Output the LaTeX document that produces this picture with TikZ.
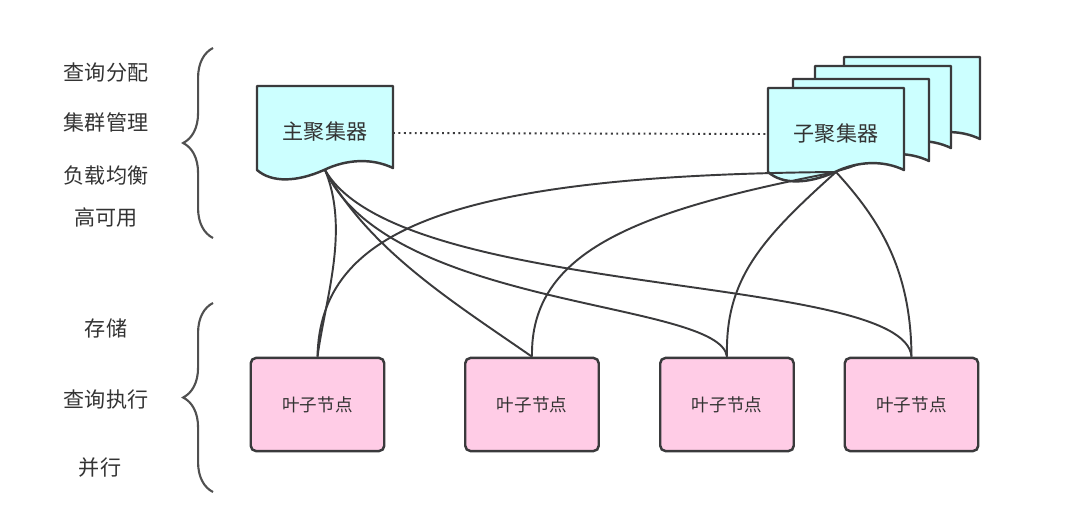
\documentclass[tikz,border=0pt]{standalone}
\usepackage{fontspec}
\newfontfamily\cjk{Noto Sans CJK SC}
\usetikzlibrary{decorations.pathreplacing}
\definecolor{diagink}{HTML}{333333}
\definecolor{diagline}{HTML}{3A3A3C}
\definecolor{aggfill}{HTML}{CCFFFF}
\definecolor{leaffill}{HTML}{FFCCE6}
\definecolor{bracegray}{HTML}{505050}
\tikzset{
  sidetext/.style={font=\cjk\fontsize{12}{14}\selectfont, text=diagink},
  aggtext/.style={font=\cjk\fontsize{12}{14}\selectfont, text=diagink},
  leafbox/.style={draw=diagline, fill=leaffill, rounded corners=3pt,
    line width=1.4pt, minimum width=76pt, minimum height=53pt,
    font=\cjk\fontsize{10}{12}\selectfont, text=diagink},
  docline/.style={draw=diagline, fill=aggfill, line width=1.4pt, line join=round},
  link/.style={draw=diagline, line width=1.1pt},
  peerlink/.style={draw=diagline, line width=1.1pt, dotted},
  sidebrace/.style={draw=bracegray, line width=1.2pt, decorate,
    decoration={brace, amplitude=17pt}},
  pics/docshape/.style={code={
    \draw[docline] (0,0) -- (136,0) -- (136,82)
      .. controls (115,72) and (90,73) .. (67,84)
      .. controls (40,96) and (15,97) .. (0,84) -- cycle;
    \node[aggtext] (-label) at (68,46) {#1};
    \coordinate (-tip) at (68,84);
    \coordinate (-east) at (136,47);
    \coordinate (-west) at (0,46);
  }}
}

\begin{document}
\begin{tikzpicture}[x=0.02cm,y=-0.02cm]
  \useasboundingbox (0,0) rectangle (1080,524);

  % side notes
  \node[sidetext] (assign) at (106,73) {查询分配};
  \node[sidetext] (cluster) at (106,122) {集群管理};
  \node[sidetext] (balance) at (106,175) {负载均衡};
  \node[sidetext] (avail) at (106,218) {高可用};
  \node[sidetext] (store) at (106,328) {存储};
  \node[sidetext] (exec) at (106,400) {查询执行};
  \node[sidetext] (para) at (100,468) {并行};
  \draw[sidebrace] (213,238) -- (213,48);
  \draw[sidebrace] (213,492) -- (213,303);

  % aggregators, the copies behind the front one stay blank
  \pic (mainagg) at (257,86) {docshape=主聚集器};
  \foreach \x/\y [count=\i] in {844/57, 815/66, 793/79} {
    \pic (back\i) at (\x,\y) {docshape={}};
  }
  \pic (subagg) at (768,88) {docshape=子聚集器};
  \draw[peerlink] (mainagg-east) -- (subagg-west);

  % leaves
  \node[leafbox] (leaf1) at (317.5,404.5) {叶子节点};
  \node[leafbox] (leaf2) at (532,404.5) {叶子节点};
  \node[leafbox] (leaf3) at (727,404.5) {叶子节点};
  \node[leafbox] (leaf4) at (911.5,404.5) {叶子节点};

  \draw[link] (mainagg-tip) .. controls (350,230) and (325,300) .. (leaf1.north);
  \draw[link] (mainagg-tip) .. controls (370,250) and (450,300) .. (leaf2.north);
  \draw[link] (mainagg-tip) .. controls (390,310) and (720,300) .. (leaf3.north);
  \draw[link] (mainagg-tip) .. controls (400,300) and (905,272) .. (leaf4.north);
  \draw[link] (subagg-tip) .. controls (450,175) and (320,230) .. (leaf1.north);
  \draw[link] (subagg-tip) .. controls (640,210) and (530,250) .. (leaf2.north);
  \draw[link] (subagg-tip) .. controls (760,240) and (725,280) .. (leaf3.north);
  \draw[link] (subagg-tip) .. controls (880,220) and (911,270) .. (leaf4.north);
\end{tikzpicture}
\end{document}
